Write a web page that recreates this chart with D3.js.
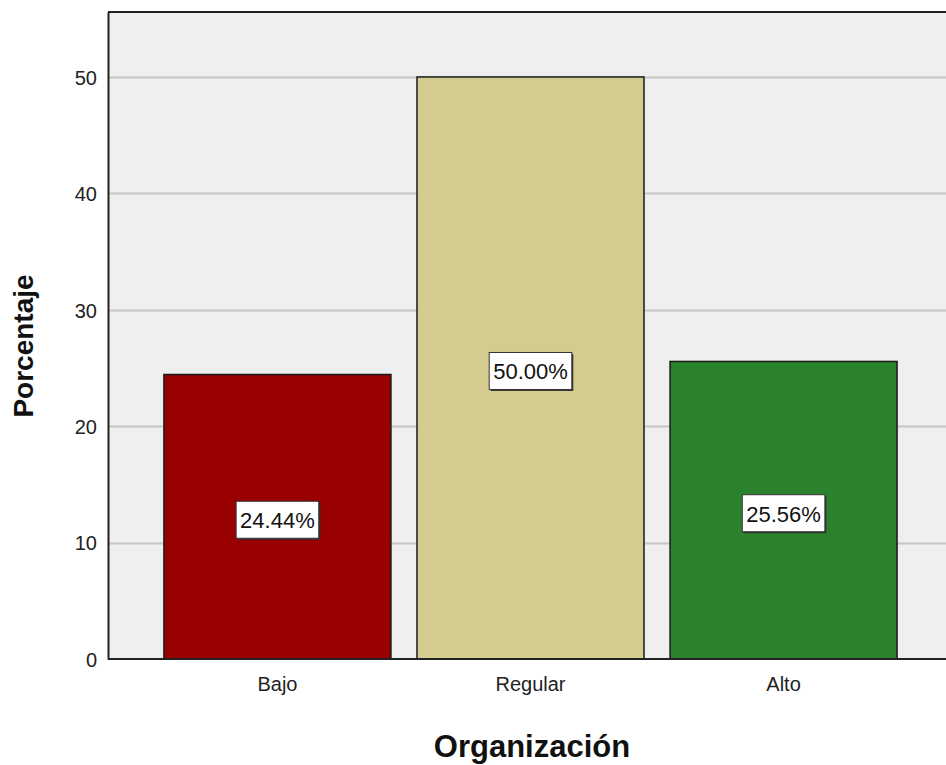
<!DOCTYPE html>
<html>
<head>
<meta charset="utf-8">
<script src="https://cdn.jsdelivr.net/npm/d3@7"></script>
<style>
  html, body { margin: 0; padding: 0; background: #ffffff; }
  svg { display: block; }
</style>
</head>
<body>
<div id="chart"></div>
<script>
// ---- data ----
const categories = ["Bajo", "Regular", "Alto"];
const values = [24.44, 50.00, 25.56];
const valueLabels = ["24.44%", "50.00%", "25.56%"];
const barColors = ["#990000", "#d3cc8e", "#2b822c"];
const yTicks = [0, 10, 20, 30, 40, 50];
const yMax = 55.58;
const xTitle = "Organización";
const yTitle = "Porcentaje";

// ---- layout ----
const W = 946, H = 765;
const plot = { left: 108, top: 12, bottom: 659, right: 953 };
const font = '"Liberation Sans", Arial, Helvetica, sans-serif';

const svg = d3.select("#chart").append("svg")
  .attr("width", W).attr("height", H);

const x = d3.scaleBand()
  .domain(categories)
  .range([plot.left, plot.right])
  .paddingInner(0.103)
  .paddingOuter(0.221);

const y = d3.scaleLinear()
  .domain([0, yMax])
  .range([plot.bottom, plot.top]);

// plot background
svg.append("rect")
  .attr("x", plot.left).attr("y", plot.top)
  .attr("width", W - plot.left + 5).attr("height", plot.bottom - plot.top)
  .attr("fill", "#efefef");

// gridlines
svg.append("g")
  .selectAll("line")
  .data(yTicks.filter(d => d > 0))
  .join("line")
  .attr("x1", plot.left).attr("x2", W)
  .attr("y1", d => Math.round(y(d)) + 0.5).attr("y2", d => Math.round(y(d)) + 0.5)
  .attr("stroke", "#c6c6c6").attr("stroke-width", 2);

// bars
svg.append("g")
  .selectAll("rect")
  .data(categories)
  .join("rect")
  .attr("x", d => x(d))
  .attr("y", (d, i) => y(values[i]))
  .attr("width", x.bandwidth())
  .attr("height", (d, i) => plot.bottom - y(values[i]))
  .attr("fill", (d, i) => barColors[i])
  .attr("stroke", "#1a1a1a").attr("stroke-width", 1.5);

// frame: top border
svg.append("line")
  .attr("x1", plot.left).attr("x2", W)
  .attr("y1", plot.top).attr("y2", plot.top)
  .attr("stroke", "#222").attr("stroke-width", 2);

// y axis
const yAxis = svg.append("g")
  .attr("transform", `translate(${plot.left},0)`)
  .call(d3.axisLeft(y).tickValues(yTicks).tickSize(0).tickPadding(11).tickFormat(d3.format("d")));
yAxis.select(".domain").attr("stroke", "#222").attr("stroke-width", 2);
yAxis.selectAll("text")
  .attr("font-family", font).attr("font-size", 20).attr("fill", "#222")
  .attr("dy", "0.67em").attr("y", -6);

// x axis
const xAxis = svg.append("g")
  .attr("transform", `translate(0,${plot.bottom})`)
  .call(d3.axisBottom(x).tickSize(0).tickPadding(18));
xAxis.select(".domain").remove();
svg.append("line")
  .attr("x1", plot.left).attr("x2", W)
  .attr("y1", plot.bottom).attr("y2", plot.bottom)
  .attr("stroke", "#222").attr("stroke-width", 2);
xAxis.selectAll("text")
  .attr("font-family", font).attr("font-size", 20).attr("fill", "#222");

// value labels
const lbl = svg.append("g").selectAll("g")
  .data(categories)
  .join("g")
  .attr("transform", (d, i) => `translate(${x(d) + x.bandwidth() / 2},${y(values[i] / 2) + 4})`);

lbl.each(function (d, i) {
  const g = d3.select(this);
  const t = g.append("text")
    .attr("text-anchor", "middle")
    .attr("dominant-baseline", "central")
    .attr("font-family", font).attr("font-size", 22).attr("fill", "#111")
    .text(valueLabels[i]);
  const bb = t.node().getBBox();
  const w = bb.width + 8, h = 37;
  g.insert("rect", "text")
    .attr("x", -w / 2 + 1.5).attr("y", -h / 2 + 0.5)
    .attr("width", w).attr("height", h)
    .attr("fill", "#333");
  g.insert("rect", "text")
    .attr("x", -w / 2).attr("y", -h / 2 - 1)
    .attr("width", w).attr("height", h)
    .attr("fill", "#ffffff").attr("stroke", "#333").attr("stroke-width", 1);
});

// axis titles
svg.append("text")
  .attr("x", (plot.left + W) / 2 + 5).attr("y", 757)
  .attr("text-anchor", "middle")
  .attr("font-family", font).attr("font-size", 31).attr("font-weight", "bold").attr("fill", "#111")
  .text(xTitle);

svg.append("text")
  .attr("transform", `translate(33,${346}) rotate(-90)`)
  .attr("text-anchor", "middle")
  .attr("font-family", font).attr("font-size", 28).attr("font-weight", "bold").attr("fill", "#111")
  .text(yTitle);
</script>
</body>
</html>
